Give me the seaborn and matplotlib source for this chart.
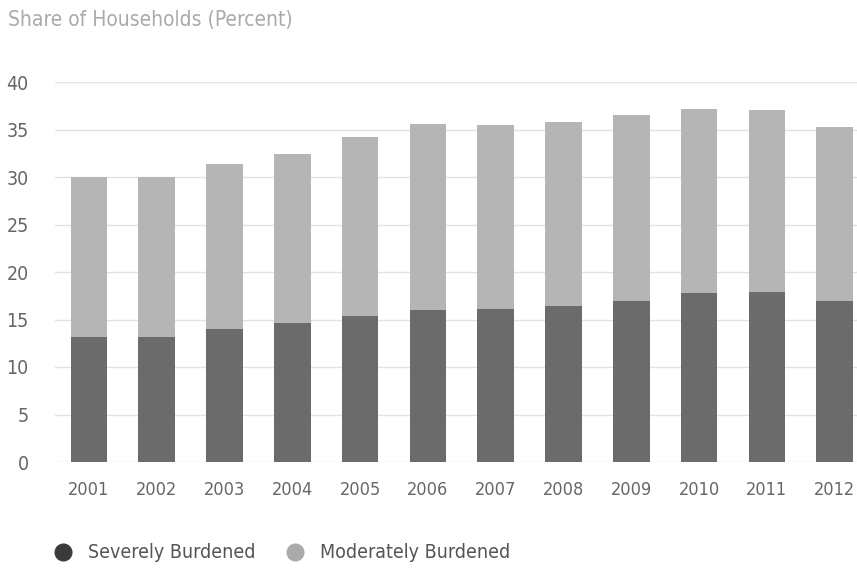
import matplotlib
matplotlib.use("Agg")
import matplotlib.pyplot as plt
from matplotlib.lines import Line2D
from matplotlib import font_manager
import seaborn as sns
import pandas as pd

years = ["2001", "2002", "2003", "2004", "2005", "2006",
         "2007", "2008", "2009", "2010", "2011", "2012"]
severe = [13.2, 13.2, 14.0, 14.6, 15.4, 16.0, 16.1, 16.4, 17.0, 17.8, 17.9, 17.0]
total = [30.0, 30.0, 31.4, 32.4, 34.2, 35.6, 35.5, 35.8, 36.5, 37.2, 37.1, 35.3]
y_ticks = [0, 5, 10, 15, 20, 25, 30, 35, 40]

df = pd.DataFrame({"year": years, "severe": severe, "total": total})

sns.set_theme(style="white")
names = {f.name for f in font_manager.fontManager.ttflist}
narrow = [n for n in ["Liberation Sans Narrow", "DejaVu Sans Condensed"] if n in names]
plt.rcParams["font.family"] = narrow + ["DejaVu Sans"]
plt.rcParams["font.stretch"] = "condensed"

fig = plt.figure(figsize=(8.57, 5.71), dpi=100)
ax = fig.add_axes([55 / 857, 109 / 571, 802 / 857, 380 / 571])

dark = "#6b6b6b"
light = "#b5b5b5"
text_col = "#666666"

# total height drawn in light grey, severe share layered on top from zero
sns.barplot(data=df, x="year", y="total", color=light, width=0.54,
            saturation=1, linewidth=0, ax=ax, zorder=2)
sns.barplot(data=df, x="year", y="severe", color=dark, width=0.54,
            saturation=1, linewidth=0, ax=ax, zorder=3)

ax.set_xlim(-0.5, 11.33)
ax.set_ylim(0, 40)
ax.set_yticks(y_ticks)
ax.yaxis.grid(True, color="#e2e2e2", linewidth=1, zorder=0)
ax.set_axisbelow(True)
for s in ax.spines.values():
    s.set_visible(False)
ax.set_xlabel("")
ax.set_ylabel("")
ax.tick_params(axis="y", length=0, pad=19, labelsize=14, labelcolor=text_col)
ax.tick_params(axis="x", length=0, pad=14, labelsize=13, labelcolor=text_col)

fig.text(8 / 857, 1 - 20 / 571, "Share of Households (Percent)",
         fontsize=15, color="#aaaaaa", va="center", ha="left")

handles = [
    Line2D([], [], marker="o", linestyle="", markersize=12,
           markerfacecolor="#3a3a3a", markeredgecolor="#3a3a3a"),
    Line2D([], [], marker="o", linestyle="", markersize=12,
           markerfacecolor="#aaaaaa", markeredgecolor="#aaaaaa"),
]
fig.legend(handles, ["Severely Burdened", "Moderately Burdened"],
           loc="center left", bbox_to_anchor=(26 / 857, 1 - 553 / 571),
           ncol=2, frameon=False, fontsize=14, handletextpad=0.3,
           columnspacing=1.0, labelcolor="#555555")

fig.savefig("out.png", dpi=100)
